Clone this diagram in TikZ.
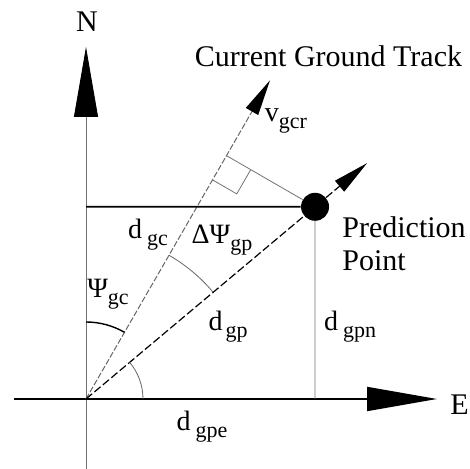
\documentclass[tikz,border=0pt]{standalone}
\usepackage{fontspec}
\setmainfont{Liberation Serif}
\usetikzlibrary{arrows.meta, calc}
\newcommand{\sbs}[1]{\raisebox{-0.55ex}{\fontsize{11}{11}\selectfont #1}}

\begin{document}
\begin{tikzpicture}[
  x=0.5pt, y=0.5pt,
  font=\fontsize{15}{16.5}\selectfont,
  axis/.style={line width=0.9pt},
  thinline/.style={line width=0.4pt, black!55},
  bigarr/.style={-{Triangle[length=35pt, width=12pt, color=black]}},
  smallarr/.style={-{Triangle[length=18pt, width=7pt, color=black]}},
  track/.style={line width=0.5pt, black!60, dash pattern=on 3pt off 1pt},
  gpline/.style={line width=0.6pt, dash pattern=on 4pt off 1.5pt},
  lbl/.style={inner sep=0pt, font=\fontsize{14}{16}\selectfont},
  ang/.style={line width=0.4pt, black!60}
]
\useasboundingbox (-86,-70) rectangle (384,399);

\coordinate (O) at (0,0);
\coordinate (S) at (0,-70);
\coordinate (W) at (-72,0);
\coordinate (Ntip) at (0,352);
\coordinate (Etip) at (351,0);
\coordinate (Ttip) at (60:368);
\coordinate (Ptip) at (40:367);
\coordinate (F) at (60:281);
\coordinate (Pn) at (0,192.2);
\coordinate (Pe) at (229,0);
\node[circle, fill, minimum size=14pt, inner sep=0pt] (P) at (40:299) {};

\draw[thinline, bigarr] (S) -- (Ntip);
\draw[axis, bigarr] (W) -- (Etip);
\draw[track, smallarr] (O) -- (Ttip);
\draw[gpline] (O) -- (P);
\draw[gpline, smallarr] (P) -- (Ptip);
\draw[line width=0.8pt] (Pn) -- (P);
\draw[thinline] (P) -- (Pe);
\draw[thinline] (P) -- (F);
\draw[thinline] ($(F)+(240:28)$) -- ++(-30:28) -- ++(60:28);

\draw[line width=0.7pt] (0,77) arc[start angle=90, end angle=60, radius=77];
\draw[ang] (60:166) arc[start angle=60, end angle=40, radius=166];
\draw[ang] (57,0) arc[start angle=0, end angle=40, radius=57];

\node[inner sep=0pt, anchor=base] (nlab) at (1,367) {N};
\node[inner sep=0pt, anchor=base west] (elab) at (364,-16) {E};
\node[inner sep=0pt, anchor=base] (title) at (242.5,332) {Current Ground Track};
\node[inner sep=0pt, anchor=north west, align=left] (plab) at (256,183) {Prediction\\Point};
\node[lbl] (vlab) at (200,278) {v\sbs{gcr}};
\node[lbl] (dgc) at (62,164) {d\hspace{2.5pt}\sbs{gc}};
\node[lbl] (dpsi) at (136,159) {ΔΨ\sbs{gp}};
\node[lbl] (psi) at (22,105) {Ψ\sbs{gc}};
\node[lbl] (dgp) at (142,72) {d\hspace{1.5pt}\sbs{gp}};
\node[lbl] (dgpn) at (264,72) {d\hspace{2.5pt}\sbs{gpn}};
\node[lbl] (dgpe) at (116,-28) {d\hspace{2.5pt}\sbs{gpe}};
\end{tikzpicture}
\end{document}
